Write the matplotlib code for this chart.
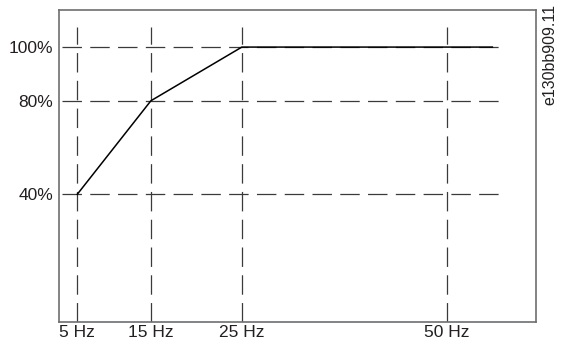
import numpy as np
import matplotlib
matplotlib.use("Agg")
import matplotlib.pyplot as plt

plt.rcParams["font.family"] = ["Liberation Sans", "DejaVu Sans"]
plt.rcParams["lines.scale_dashes"] = False

# Characteristic: load limit vs. output frequency
freq_hz = [5, 15, 25, 55.5]
load_pct = [40, 80, 100, 100]

x_ticks = [5, 15, 25, 50]
x_labels = ["5 Hz", "15 Hz", "25 Hz", "50 Hz"]
y_ticks = [40, 80, 100]
y_labels = ["40%", "80%", "100%"]
code_label = "e130bb909.11"

TEXT = "#231f20"
GRID = "#3a3a3a"
FRAME = "#6d6e71"


def piecewise(xk, yk):
    # piecewise-linear map with linear extrapolation at both ends
    xk = np.asarray(xk, float)
    yk = np.asarray(yk, float)
    s0 = (yk[1] - yk[0]) / (xk[1] - xk[0])
    s1 = (yk[-1] - yk[-2]) / (xk[-1] - xk[-2])

    def f(v):
        v = np.asarray(v, float)
        out = np.interp(v, xk, yk)
        out = np.where(v < xk[0], yk[0] + (v - xk[0]) * s0, out)
        out = np.where(v > xk[-1], yk[-1] + (v - xk[-1]) * s1, out)
        return out
    return f


# the axes are drawn schematic, not to scale
x_steps = [0, 73.7, 164.7, 370.2]
y_steps = [0, 93.6, 147.3]

fig = plt.figure(figsize=(5.63, 3.46), dpi=100)
ax = fig.add_axes([0.1048, 0.068, 0.847, 0.9045])

ax.set_xscale("function", functions=(piecewise(x_ticks, x_steps), piecewise(x_steps, x_ticks)))
ax.set_yscale("function", functions=(piecewise(y_ticks, y_steps), piecewise(y_steps, y_ticks)))
ax.set_xlim(2.52, 60.8)
ax.set_ylim(-14.8, 114.0)

dash = (0, (14, 6))
ax.vlines(x_ticks, -14.8, 107.4, colors=GRID, linewidth=0.9, linestyles=[dash])
ax.hlines(y_ticks, 2.9, 56.6, colors=GRID, linewidth=0.9, linestyles=[dash])

ax.plot(freq_hz, load_pct, color="black", linewidth=1.1, solid_joinstyle="miter")

ax.set_xticks(x_ticks)
ax.set_xticklabels(x_labels)
ax.set_yticks(y_ticks)
ax.set_yticklabels(y_labels)
ax.tick_params(length=0, labelsize=12.5, labelcolor=TEXT)
ax.tick_params(axis="x", pad=2)
ax.tick_params(axis="y", pad=4)

for sp in ax.spines.values():
    sp.set_color(FRAME)
    sp.set_linewidth(1.2)

fig.text(550 / 563, 1 - 4 / 346, code_label, rotation=90, ha="center", va="top",
         fontsize=11.5, color=TEXT)

fig.savefig("out.png", dpi=100)
